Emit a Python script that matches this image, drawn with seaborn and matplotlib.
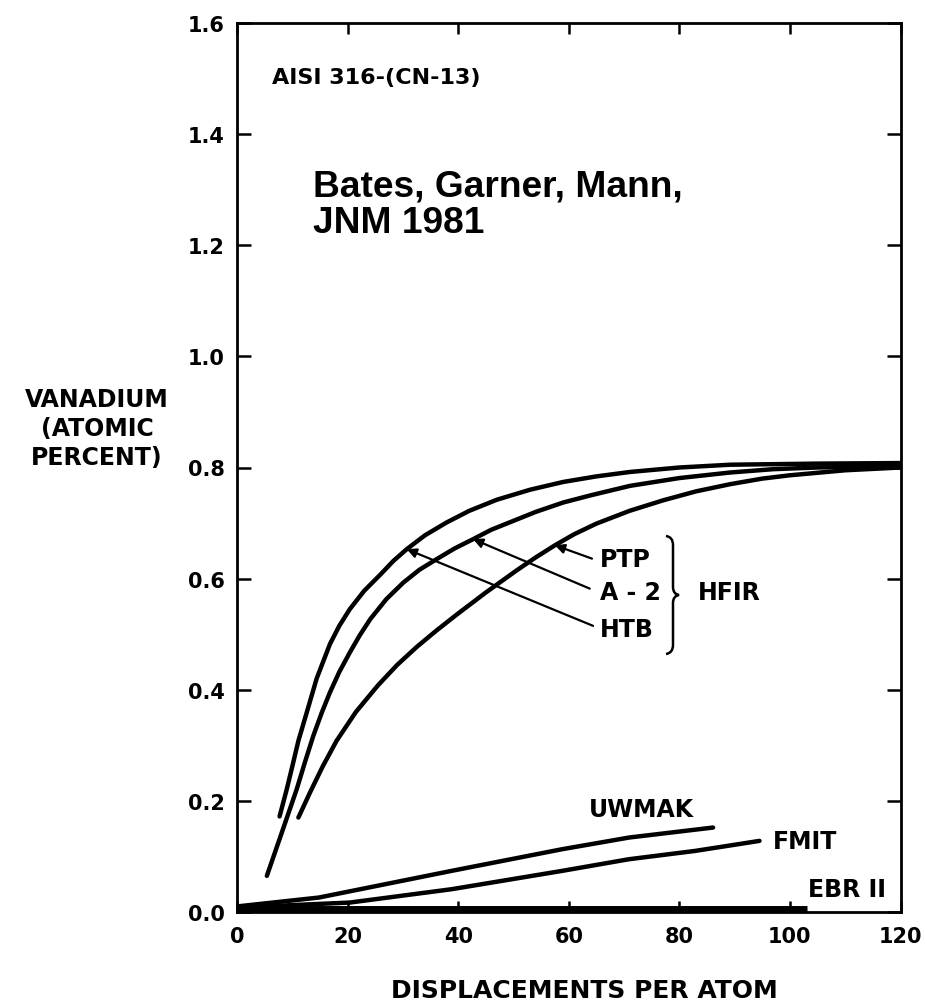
import numpy as np
import pandas as pd
import matplotlib
matplotlib.use("Agg")
import matplotlib.pyplot as plt
import seaborn as sns
from matplotlib.path import Path
from matplotlib.patches import PathPatch

# ---------------- data ----------------
htb_dpa = [7.7, 9.0, 10.0, 11.1, 12.7, 14.4, 16.8, 18.5, 20.4, 23.0, 25.9, 28.3, 30.7, 34.0,
           37.9, 42.0, 47.0, 53.0, 59.0, 65.0, 71.1, 80.0, 89.2, 105.0, 120.0]
htb_v = [0.172, 0.221, 0.262, 0.308, 0.362, 0.420, 0.482, 0.515, 0.545, 0.578, 0.607, 0.632,
         0.653, 0.678, 0.701, 0.722, 0.742, 0.760, 0.774, 0.784, 0.792, 0.800, 0.805, 0.807, 0.808]

a2_dpa = [5.4, 8.0, 10.8, 12.3, 13.8, 15.3, 16.8, 18.5, 20.4, 22.2, 24.1, 27.0, 30.1, 33.0,
          36.1, 39.3, 42.7, 46.0, 50.0, 54.0, 59.0, 64.0, 71.1, 80.0, 89.2, 97.0, 105.0, 120.0]
a2_v = [0.065, 0.140, 0.221, 0.270, 0.317, 0.358, 0.395, 0.432, 0.467, 0.498, 0.527, 0.563,
        0.593, 0.616, 0.635, 0.654, 0.671, 0.688, 0.704, 0.720, 0.737, 0.750, 0.767, 0.781,
        0.791, 0.797, 0.800, 0.803]

ptp_dpa = [11.1, 13.2, 15.5, 18.0, 21.5, 25.5, 29.0, 32.5, 36.0, 39.7, 45.0, 50.6, 54.0,
           57.5, 61.0, 65.0, 71.0, 77.1, 83.0, 89.2, 95.0, 100.0, 110.0, 120.0]
ptp_v = [0.170, 0.215, 0.262, 0.308, 0.360, 0.408, 0.445, 0.477, 0.506, 0.535, 0.575, 0.615,
         0.638, 0.660, 0.680, 0.699, 0.722, 0.741, 0.757, 0.770, 0.780, 0.786, 0.795, 0.800]

uwmak_dpa = [0.0, 14.8, 38.8, 58.8, 70.9, 86.1]
uwmak_v = [0.010, 0.026, 0.074, 0.113, 0.134, 0.152]

fmit_dpa = [0.0, 20.4, 38.8, 58.8, 70.9, 82.9, 94.5]
fmit_v = [0.008, 0.017, 0.041, 0.074, 0.095, 0.110, 0.128]

ebr_dpa = [0.0, 20.0, 40.0, 60.0, 80.0, 103.0]
ebr_v = [0.006, 0.006, 0.006, 0.006, 0.006, 0.006]

x_ticks = [0, 20, 40, 60, 80, 100, 120]
y_ticks = [0.0, 0.2, 0.4, 0.6, 0.8, 1.0, 1.2, 1.4, 1.6]
y_tick_labels = ["0.0", "0.2", "0.4", "0.6", "0.8", "1.0", "1.2", "1.4", "1.6"]

# ---------------- style ----------------
sns.set_style("ticks")
plt.rcParams["font.family"] = ["DejaVu Sans"]
plt.rcParams["font.weight"] = "bold"
for k in ["text.color", "axes.labelcolor", "xtick.color", "ytick.color", "axes.edgecolor"]:
    plt.rcParams[k] = "black"

W, H = 925, 1004
fig = plt.figure(figsize=(W / 100, H / 100), dpi=100)
fig.patch.set_facecolor("white")
ax = fig.add_axes([237 / W, 1 - 913 / H, (900.5 - 237) / W, (913 - 24) / H])
ax.set_facecolor("white")

curves = pd.concat([
    pd.DataFrame({"dpa": htb_dpa, "v": htb_v, "series": "HTB"}),
    pd.DataFrame({"dpa": a2_dpa, "v": a2_v, "series": "A-2"}),
    pd.DataFrame({"dpa": ptp_dpa, "v": ptp_v, "series": "PTP"}),
    pd.DataFrame({"dpa": uwmak_dpa, "v": uwmak_v, "series": "UWMAK"}),
    pd.DataFrame({"dpa": fmit_dpa, "v": fmit_v, "series": "FMIT"}),
], ignore_index=True)

sns.lineplot(data=curves, x="dpa", y="v", units="series", estimator=None,
             color="black", linewidth=3.2, sort=False, ax=ax, legend=False)

ebr = pd.DataFrame({"dpa": ebr_dpa, "v": ebr_v})
sns.lineplot(data=ebr, x="dpa", y="v", color="black", linewidth=5, ax=ax,
             legend=False, solid_capstyle="butt")

ax.set_xlim(0, 120)
ax.set_ylim(0, 1.6)
ax.set_xticks(x_ticks)
ax.set_xticklabels([str(t) for t in x_ticks])
ax.set_yticks(y_ticks)
ax.set_yticklabels(y_tick_labels)
ax.set_xlabel("")
ax.set_ylabel("")

for s in ax.spines.values():
    s.set_visible(True)
    s.set_linewidth(2.0)
    s.set_color("black")

ax.tick_params(axis="y", which="major", direction="in", length=10, width=1.8,
               labelsize=15, pad=9, right=True, left=True, colors="black")
ax.tick_params(axis="x", which="major", direction="in", length=8, width=1.8,
               labelsize=15, pad=10, top=True, bottom=True, colors="black")
for lab in ax.get_xticklabels() + ax.get_yticklabels():
    lab.set_fontweight("bold")

# axis titles
fig.text(584 / W, 1 - 991 / H, "DISPLACEMENTS PER ATOM", ha="center", va="center",
         fontsize=18, fontweight="bold", color="black")
fig.text(97 / W, 1 - 429 / H, "VANADIUM\n(ATOMIC\nPERCENT)", ha="center", va="center",
         multialignment="center", fontsize=17, fontweight="bold", linespacing=1.25,
         color="black")

# in-plot texts
ax.text(6.3, 1.503, "AISI 316-(CN-13)", fontsize=16, fontweight="bold", va="center",
        ha="left", color="black")
fig.text(313 / W, 1 - 233 / H, "Bates, Garner, Mann,\nJNM 1981", ha="left", va="baseline",
         fontsize=26.7, fontweight="bold", family=["Liberation Sans", "DejaVu Sans"],
         linespacing=1.05, color="black")

ax.text(73.1, 0.185, "UWMAK", fontsize=17, fontweight="bold", ha="center", va="center")
ax.text(96.9, 0.128, "FMIT", fontsize=17, fontweight="bold", ha="left", va="center")
ax.text(103.3, 0.041, "EBR II", fontsize=17, fontweight="bold", ha="left", va="center")

lab_x = 65.6
ax.text(lab_x, 0.635, "PTP", fontsize=17, fontweight="bold", ha="left", va="center")
ax.text(lab_x, 0.576, "A - 2", fontsize=17, fontweight="bold", ha="left", va="center")
ax.text(lab_x, 0.509, "HTB", fontsize=17, fontweight="bold", ha="left", va="center")
ax.text(83.3, 0.576, "HFIR", fontsize=17, fontweight="bold", ha="left", va="center")

arrow_kw = dict(arrowstyle="-|>", color="black", lw=1.6, mutation_scale=14,
                shrinkA=0, shrinkB=0)
ax.annotate("", xy=(57.5, 0.660), xytext=(64.2, 0.636), arrowprops=arrow_kw)
ax.annotate("", xy=(42.7, 0.671), xytext=(63.8, 0.582), arrowprops=arrow_kw)
ax.annotate("", xy=(30.7, 0.653), xytext=(64.4, 0.515), arrowprops=arrow_kw)

# thin curly brace grouping the HFIR labels (drawn in figure pixels)
def fp(px, py):
    return (px / W, 1 - py / H)

xl, xm, xr = 666, 673, 679
yt, yc, yb = 537, 596, 655
brace_pts = [fp(xl, yt), fp(xm, yt + 1), fp(xm, yt + 9),
             fp(xm, yc - 8),
             fp(xm, yc - 1), fp(xr, yc),
             fp(xm, yc + 1), fp(xm, yc + 8),
             fp(xm, yb - 9),
             fp(xm, yb - 1), fp(xl, yb)]
brace_codes = [Path.MOVETO, Path.CURVE3, Path.CURVE3,
               Path.LINETO,
               Path.CURVE3, Path.CURVE3,
               Path.CURVE3, Path.CURVE3,
               Path.LINETO,
               Path.CURVE3, Path.CURVE3]
fig.patches.append(PathPatch(Path(brace_pts, brace_codes), transform=fig.transFigure,
                             facecolor="none", edgecolor="black", lw=1.8))

fig.savefig("out.png", dpi=100, facecolor="white")
